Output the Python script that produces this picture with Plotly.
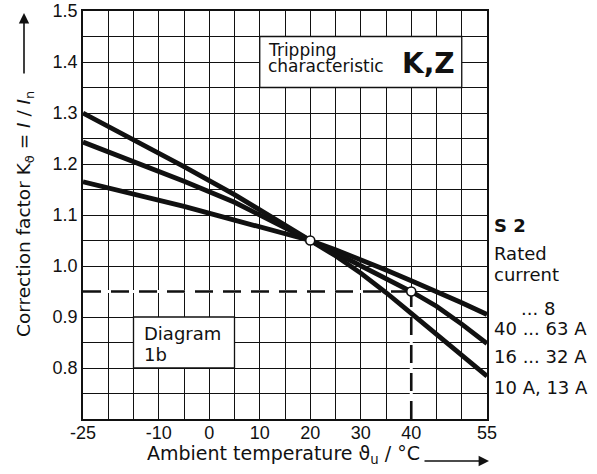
import plotly.graph_objects as go

# ---- data ----
temps = [-25, -15, -5, 5, 15, 20, 25, 30, 35, 40, 45, 50, 55]
k_10_13 = [1.300, 1.248, 1.195, 1.140, 1.080, 1.050, 1.020, 0.986, 0.948, 0.907, 0.867, 0.826, 0.784]
k_16_32 = [1.243, 1.205, 1.166, 1.125, 1.074, 1.050, 1.026, 1.000, 0.975, 0.950, 0.921, 0.886, 0.848]
k_40_63 = [1.165, 1.142, 1.117, 1.090, 1.063, 1.050, 1.032, 1.013, 0.992, 0.971, 0.950, 0.928, 0.905]
series_names = ["40 ... 63 A", "16 ... 32 A", "10 A, 13 A"]
marker_t = [20, 40]
marker_k = [1.05, 0.95]
x_ticks = [-25, -10, 0, 10, 20, 30, 40, 55]
y_ticks = [0.8, 0.9, 1.0, 1.1, 1.2, 1.3, 1.4, 1.5]
y_tick_text = ["0.8", "0.9", "1.0", "1.1", "1.2", "1.3", "1.4", "1.5"]
x_range = [-25, 55]
y_range = [0.7, 1.5]

# ---- layout geometry ----
FW, FH = 597, 474
L, R, T, B = 83, 110, 11, 55
PW, PH = FW - L - R, FH - T - B
WORD = "DejaVu Sans"
NUM = "Liberation Sans"
INK = "#111111"


def px(x):
    return (x - L) / PW


def py(y):
    return 1 - (y - T) / PH


fig = go.Figure()

# white masks over the gridline under the dashed guides
fig.add_trace(go.Scatter(x=[x_range[0], marker_t[1]], y=[marker_k[1], marker_k[1]], mode="lines",
                         line=dict(color="white", width=3), hoverinfo="skip", showlegend=False))
fig.add_trace(go.Scatter(x=[marker_t[1], marker_t[1]], y=[y_range[0], marker_k[1]], mode="lines",
                         line=dict(color="white", width=3), hoverinfo="skip", showlegend=False))
# dashed guides
fig.add_trace(go.Scatter(x=[x_range[0], marker_t[1]], y=[marker_k[1], marker_k[1]], mode="lines",
                         line=dict(color=INK, width=2.6, dash="18px,10px"), showlegend=False))
fig.add_trace(go.Scatter(x=[marker_t[1], marker_t[1]], y=[y_range[0], marker_k[1]], mode="lines",
                         line=dict(color=INK, width=2.6, dash="18px,10px"), showlegend=False))

for name, vals in zip(series_names, [k_40_63, k_16_32, k_10_13]):
    fig.add_trace(go.Scatter(x=temps, y=vals, mode="lines", name=name,
                             line=dict(color=INK, width=4.8), showlegend=False))

fig.add_trace(go.Scatter(x=marker_t, y=marker_k, mode="markers",
                         marker=dict(size=9, color="white", line=dict(color=INK, width=1.6)),
                         showlegend=False))

# white label boxes
fig.add_shape(type="rect", xref="x", yref="y", x0=10, x1=50, y0=1.35, y1=1.45,
              fillcolor="white", line=dict(color=INK, width=1.3), layer="between")
fig.add_shape(type="rect", xref="x", yref="y", x0=-15, x1=5, y0=0.8, y1=0.9,
              fillcolor="white", line=dict(color=INK, width=1.3), layer="between")

ann = []


def text(t, x, y, size, xanchor="left", family=WORD, angle=0):
    ann.append(dict(text=t, x=px(x), y=py(y), xref="paper", yref="paper", showarrow=False,
                    xanchor=xanchor, yanchor="middle", textangle=angle,
                    font=dict(family=family, size=size, color=INK)))


text("Tripping", 266, 50.5, 17)
text("characteristic", 266, 66, 17)
text("<b>K,Z</b>", 400, 63, 28)
text("Diagram", 142, 333, 18)
text("1b", 142, 354, 18)

text("<b>S 2</b>", 492, 225, 18)
text("Rated", 492, 253, 18)
text("current", 492, 274.5, 18)
text("... 8", 519, 308, 18)
text(series_names[0], 492, 328, 18)
text(series_names[1], 492, 356, 18)
text(series_names[2], 492, 387.5, 18)

text("Ambient temperature ϑ<sub>u</sub> / °C", 283, 455, 19, xanchor="center")
text("Correction factor K<sub>ϑ</sub> = <i>I</i> / <i>I</i><sub>n</sub>", 25, 214, 18.5,
     xanchor="center", angle=-90)

# arrows
ann.append(dict(text="", x=px(24), y=py(13), xref="paper", yref="paper", showarrow=True,
                ax=0, ay=62, arrowhead=2, arrowsize=1.3, arrowwidth=1.6, arrowcolor=INK))
ann.append(dict(text="", x=px(489), y=py(461), xref="paper", yref="paper", showarrow=True,
                ax=-66, ay=0, arrowhead=2, arrowsize=1.3, arrowwidth=1.6, arrowcolor=INK))

grid = dict(showgrid=True, gridcolor=INK, gridwidth=1.3)
fig.update_layout(
    width=FW, height=FH, margin=dict(l=L, r=R, t=T, b=B, autoexpand=False),
    paper_bgcolor="white", plot_bgcolor="white",
    annotations=ann, showlegend=False,
    xaxis=dict(range=x_range, tickvals=x_ticks, ticktext=[str(v) for v in x_ticks],
               ticks="", zeroline=False, showline=True, linecolor=INK, linewidth=1.5, mirror=True,
               automargin=False, ticklabelstandoff=-3,
               tickfont=dict(family=NUM, size=18, color=INK),
               minor=dict(dtick=5, tick0=-25, showgrid=True, gridcolor=INK, gridwidth=1.3),
               **grid),
    yaxis=dict(range=y_range, tickvals=y_ticks, ticktext=y_tick_text,
               ticks="", zeroline=False, showline=True, linecolor=INK, linewidth=1.5, mirror=True,
               automargin=False,
               tickfont=dict(family=NUM, size=18, color=INK),
               minor=dict(dtick=0.05, tick0=0.7, showgrid=True, gridcolor=INK, gridwidth=1.3),
               **grid),
)

fig.write_html("out.html", config={"displayModeBar": False},
               post_script="document.body.style.margin='0px';")
